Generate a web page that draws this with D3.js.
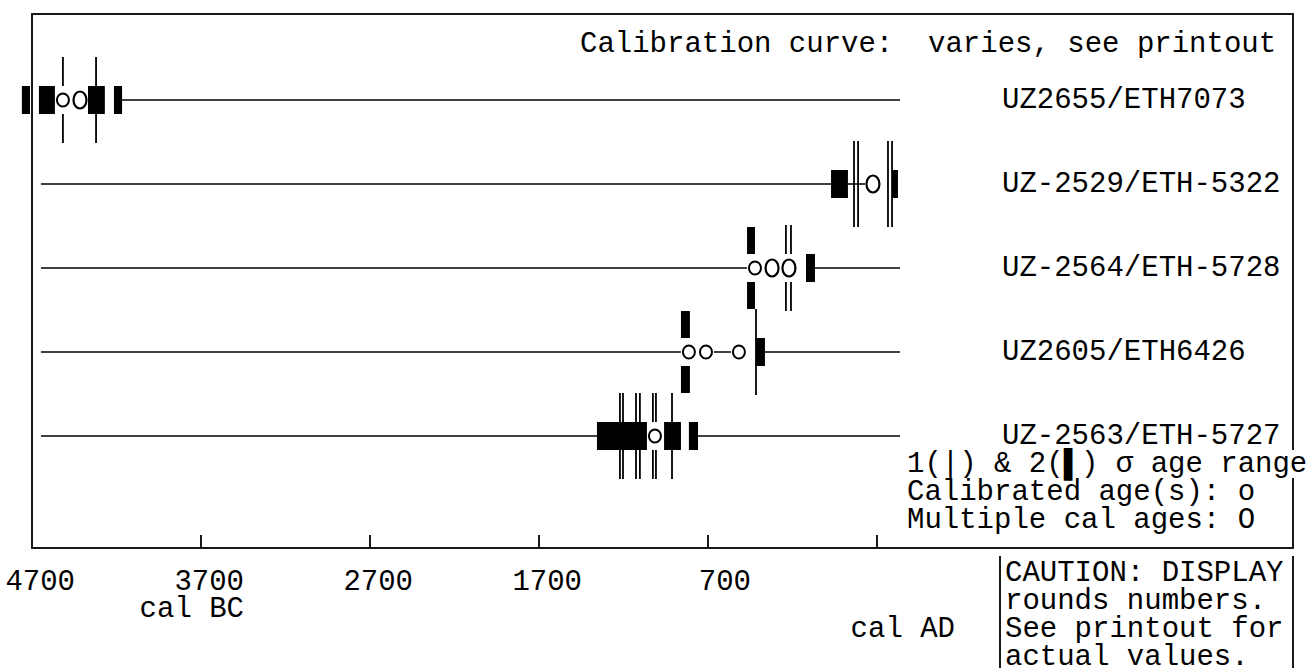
<!DOCTYPE html>
<html>
<head>
<meta charset="utf-8">
<script src="https://cdn.jsdelivr.net/npm/d3@7"></script>
<style>
  body { margin: 0; background: #fff; }
  text { font-family: "Liberation Mono", "DejaVu Sans Mono", monospace; white-space: pre; }
</style>
</head>
<body>
<script>
// sample names, one row each
const samples = ["UZ2655/ETH7073", "UZ-2529/ETH-5322", "UZ-2564/ETH-5728", "UZ2605/ETH6426", "UZ-2563/ETH-5727"];

// years: negative = cal BC
// pieces of the horizontal line of each row
const lineSegs = [
  [[-4167, 436]],
  [[-4647, 276]],
  [[-4647, -422], [-67, 436]],
  [[-4647, -813], [-712, -517], [-363, 436]],
  [[-4647, -1357], [-759, 436]]
];

// 2 sigma blocks [from, to, split above/below]
const sigma2 = [
  [[-4760, -4712, 0], [-4659, -4564, 0], [-4369, -4269, 0], [-4215, -4167, 0]],
  [[28, 128, 0], [389, 424, 0]],
  [[-469, -422, 1], [-120, -67, 0]],
  [[-860, -807, 1], [-416, -363, 0]],
  [[-1357, -1061, 0], [-960, -860, 0], [-813, -759, 0]]
];

// 1 sigma marks
const sigma1 = [
  [-4517, -4321],
  [164, 188, 365, 389],
  [-239, -209],
  [-416],
  [-1221, -1203, -1126, -1103, -1026, -1008, -913]
];

// calibrated ages (o) and multiple cal ages (O)
const calAges = [[-4517], [], [-422], [-813, -712, -517], [-1014]];
const multiAges = [[-4416], [276], [-321, -221], [], []];

const tickYears = [-4700, -3700, -2700, -1700, -700, 300];
const tickLabels = ["4700", "3700", "2700", "1700", "700", ""];

const legendLines = ["1(|) & 2(\u258C) \u03C3 age range", "Calibrated age(s): o", "Multiple cal ages: O"];
const cautionLines = ["CAUTION: DISPLAY", "rounds numbers.", "See printout for", "actual values."];

const width = 1316, height = 668;
const fs = 29;

const x = d3.scaleLinear().domain([-4700, 300]).range([32, 877]);
const y = d3.scalePoint().domain(samples).range([100, 436]);

const svg = d3.select("body").append("svg")
    .attr("width", width)
    .attr("height", height);

// frame
svg.append("rect")
    .attr("x", 32).attr("y", 14)
    .attr("width", 1261).attr("height", 534)
    .attr("fill", "none")
    .attr("stroke", "#000")
    .attr("stroke-width", 1.8);

// ticks on the bottom edge
svg.append("g")
  .selectAll("line")
  .data(tickYears.slice(1))
  .join("line")
    .attr("x1", d => x(d)).attr("x2", d => x(d))
    .attr("y1", 548).attr("y2", 535)
    .attr("stroke", "#000")
    .attr("stroke-width", 1.8);

svg.append("g")
    .attr("font-size", fs)
  .selectAll("text")
  .data(tickYears)
  .join("text")
    .attr("x", d => x(d) + 43)
    .attr("y", 590)
    .attr("text-anchor", "end")
    .text((d, i) => tickLabels[i]);

svg.append("text")
    .attr("x", x(-3700) + 43).attr("y", 617)
    .attr("text-anchor", "end")
    .attr("font-size", fs)
    .text("cal BC");

svg.append("text")
    .attr("x", 955).attr("y", 637)
    .attr("text-anchor", "end")
    .attr("font-size", fs)
    .text("cal AD");

svg.append("text")
    .attr("x", 580).attr("y", 52)
    .attr("font-size", fs)
    .text("Calibration curve:  varies, see printout");

// rows
const row = svg.append("g")
  .selectAll("g")
  .data(samples)
  .join("g")
    .attr("transform", d => `translate(0,${y(d)})`);

row.selectAll("line.seg")
  .data((d, i) => lineSegs[i])
  .join("line")
    .attr("class", "seg")
    .attr("x1", d => x(d[0])).attr("x2", d => x(d[1]))
    .attr("stroke", "#000")
    .attr("stroke-width", 1.7);

row.selectAll("line.s1")
  .data((d, i) => sigma1[i])
  .join("line")
    .attr("class", "s1")
    .attr("x1", d => x(d)).attr("x2", d => x(d))
    .attr("y1", -43).attr("y2", 43)
    .attr("stroke", "#000")
    .attr("stroke-width", 1.8);

// 2 sigma blocks, split ones sit above and below the line
row.selectAll("g.s2")
  .data((d, i) => sigma2[i])
  .join("g")
    .attr("class", "s2")
  .selectAll("rect")
  .data(d => d[2] ? [[d[0], d[1], -41], [d[0], d[1], 14]] : [[d[0], d[1], -14]])
  .join("rect")
    .attr("x", d => x(d[0]))
    .attr("width", d => x(d[1]) - x(d[0]))
    .attr("y", d => d[2])
    .attr("height", d => d[2] === -14 ? 28 : 27)
    .attr("fill", "#000");

// white cell behind each age glyph
row.selectAll("rect.cell")
  .data((d, i) => calAges[i].concat(multiAges[i]))
  .join("rect")
    .attr("class", "cell")
    .attr("x", d => x(d) - 8).attr("width", 16)
    .attr("y", -14).attr("height", 28)
    .attr("fill", "#fff");

row.selectAll("ellipse.o")
  .data((d, i) => calAges[i])
  .join("ellipse")
    .attr("class", "o")
    .attr("cx", d => x(d)).attr("cy", 0)
    .attr("rx", 6).attr("ry", 6.5)
    .attr("fill", "#fff")
    .attr("stroke", "#000")
    .attr("stroke-width", 2);

row.selectAll("ellipse.big")
  .data((d, i) => multiAges[i])
  .join("ellipse")
    .attr("class", "big")
    .attr("cx", d => x(d)).attr("cy", 0)
    .attr("rx", 6.5).attr("ry", 8.5)
    .attr("fill", "#fff")
    .attr("stroke", "#000")
    .attr("stroke-width", 2.2);

row.append("text")
    .attr("x", 1002).attr("y", 8)
    .attr("font-size", fs)
    .text(d => d);

// legend, its first line runs over the frame edge
svg.append("rect")
    .attr("x", 905).attr("y", 450)
    .attr("width", 395).attr("height", 28)
    .attr("fill", "#fff");

svg.append("g")
    .attr("font-size", fs)
  .selectAll("text")
  .data(legendLines)
  .join("text")
    .attr("x", 907)
    .attr("y", (d, i) => 472 + i * 28)
    .text(d => d);

// caution box
svg.append("g")
  .selectAll("line")
  .data([1000, 1293])
  .join("line")
    .attr("x1", d => d).attr("x2", d => d)
    .attr("y1", 556).attr("y2", 668)
    .attr("stroke", "#000")
    .attr("stroke-width", 1.8);

svg.append("g")
    .attr("font-size", fs)
  .selectAll("text")
  .data(cautionLines)
  .join("text")
    .attr("x", 1005)
    .attr("y", (d, i) => 581 + i * 28)
    .text(d => d);
</script>
</body>
</html>
